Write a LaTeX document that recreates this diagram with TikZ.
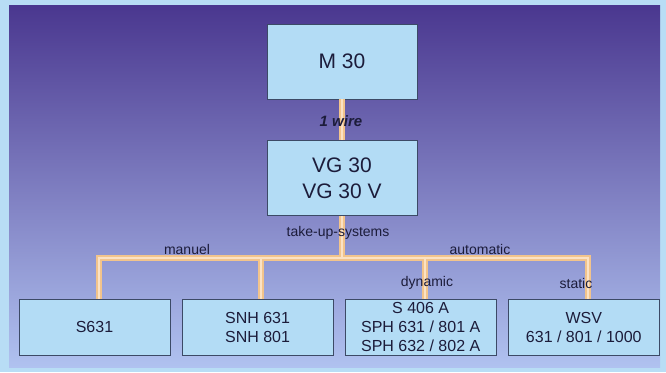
\documentclass[tikz,border=0pt]{standalone}
\usepackage{fontspec}
\setmainfont{Liberation Sans}
\usetikzlibrary{positioning}
\definecolor{frame}{HTML}{B8DDF5}
\definecolor{bgtop}{HTML}{4A378F}
\definecolor{bgmid}{HTML}{7A64C2}
\definecolor{bgbot}{HTML}{B0C2F0}
\definecolor{boxfill}{HTML}{B3DCF5}
\definecolor{boxline}{HTML}{3C4A66}
\definecolor{wirecol}{HTML}{F2C48C}
\definecolor{wirelight}{HTML}{FBE2C4}
\definecolor{ink}{HTML}{1C1C3A}
\tikzset{
  box/.style = {draw=boxline, line width=0.6pt, fill=boxfill, text=ink,
    align=center, inner sep=0pt},
  top box/.style = {box, minimum width=150pt, minimum height=75pt,
    font=\fontsize{21}{26}\selectfont},
  leaf/.style = {box, minimum width=151pt, minimum height=56pt,
    font=\fontsize{16}{19}\selectfont},
  wire/.style = {line width=6pt, draw=wirecol},
  wire core/.style = {line width=2pt, draw=wirelight},
  tag/.style = {text=ink, inner sep=1pt, font=\fontsize{14}{16}\selectfont},
  node distance = 41pt and 11.5pt,
}

\begin{document}
\begin{tikzpicture}[x=1pt, y=-1pt]
  \useasboundingbox (0,0) rectangle (666,372);
  \fill[frame] (0,0) rectangle (666,372);
  \shade[top color=bgtop, middle color=bgmid, bottom color=bgbot]
    (9,5) rectangle (660,367);

  \node[top box] (m30) at (342,61.5) {M 30};
  \node[top box, below=of m30] (vg30) {VG 30\\VG 30 V};

  \node[leaf] (s631) at (94.5,327) {S631};
  \node[leaf, right=of s631] (snh) {SNH 631\\SNH 801};
  \node[leaf, right=of snh] (sph) {S 406 A\\SPH 631 / 801 A\\SPH 632 / 802 A};
  \node[leaf, right=of sph] (wsv) {WSV\\631 / 801 / 1000};

  \coordinate (bus) at (342,258);
  \foreach \layer in {wire, wire core}
    \draw[\layer] (m30) -- (vg30)
      (vg30) -- (bus)
      (bus) -| ([xshift=4pt]s631.north)
      (bus) -| ([xshift=3pt]snh.north)
      (bus) -| ([xshift=4pt]sph.north)
      (bus) -| ([xshift=4pt]wsv.north);

  \node[tag, font=\fontsize{15}{17}\selectfont\bfseries\itshape]
    (onewire) at (341,121) {1 wire};
  \node[tag] (takeup) at (338,233) {take-up-systems};
  \node[tag] (manuel) at (187,249) {manuel};
  \node[tag] (auto) at (480,249) {automatic};
  \node[tag] (dyn) at (427,283) {dynamic};
  \node[tag] (stat) at (576,283) {static};
\end{tikzpicture}
\end{document}
